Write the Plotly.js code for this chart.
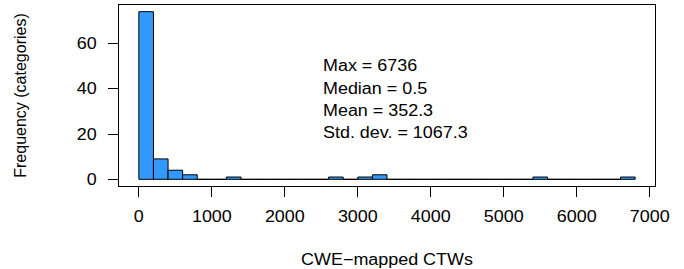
<!DOCTYPE html>
<html>
<head>
<meta charset="utf-8">
<script src="https://cdn.plot.ly/plotly-3.0.1.min.js"></script>
<style>html,body{margin:0;padding:0;background:#fff;}#chart{width:684px;height:269px;}</style>
</head>
<body>
<div id="chart"></div>
<script>
// Histogram bins (start of each 200-wide bin) and counts
const binWidth = 200;
const binStarts = [0,200,400,600,800,1000,1200,1400,1600,1800,2000,2200,2400,2600,2800,3000,3200,3400,3600,3800,4000,4200,4400,4600,4800,5000,5200,5400,5600,5800,6000,6200,6400,6600];
const counts    = [74,9,4,2,0,0,1,0,0,0,0,0,0,1,0,1,2,0,0,0,0,0,0,0,0,0,0,1,0,0,0,0,0,1];
const xTicks = [0,1000,2000,3000,4000,5000,6000,7000];
const yTicks = [0,20,40,60];
const statLines = ["Max = 6736","Median = 0.5","Mean = 352.3","Std. dev. = 1067.3"];

const mids = binStarts.map(s => s + binWidth/2);
const xMin = binStarts[0], xMax = binStarts[binStarts.length-1] + binWidth;
const yMax = Math.max(...counts);
const xPad = (xMax - xMin) * 0.04, yPad = yMax * 0.04;

const font = {family: 'Liberation Sans, Arial, sans-serif', size: 16, color: '#000'};

const trace = {
  type: 'bar', x: mids, y: counts, width: binWidth,
  marker: {color: '#3399FF', line: {color: '#000', width: 1}},
  hoverinfo: 'x+y'
};

// text line centres in pixels -> paper coords of plot area (top 5, bottom 186)
const lineY = [65.5, 88, 110, 132];
const annotations = statLines.map((t, i) => ({
  text: t, xref: 'paper', yref: 'paper', x: 0.3774, y: (186 - lineY[i]) / 181,
  xanchor: 'left', yanchor: 'middle', align: 'left', showarrow: false, font: font
}));

const layout = {
  width: 684, height: 269,
  margin: {l: 119, r: 29, t: 5, b: 83},
  paper_bgcolor: '#fff', plot_bgcolor: '#fff',
  font: font, showlegend: false, bargap: 0,
  xaxis: {
    range: [xMin - xPad, xMax + xPad], tickvals: xTicks, ticktext: xTicks.map(String),
    ticks: 'outside', ticklen: 10, tickcolor: '#000', tickwidth: 1,
    showline: true, linecolor: '#000', linewidth: 1, mirror: true,
    showgrid: false, zeroline: false, ticklabelstandoff: 6,
    title: {text: 'CWE\u2212mapped CTWs', font: font, standoff: 29}
  },
  yaxis: {
    range: [-yPad, yMax + yPad], tickvals: yTicks, ticktext: yTicks.map(String),
    ticks: 'outside', ticklen: 10, tickcolor: '#000', tickwidth: 1,
    showline: true, linecolor: '#000', linewidth: 1, mirror: true,
    showgrid: false, zeroline: false, ticklabelstandoff: 8,
    title: {text: 'Frequency (categories)', font: font, standoff: 48}
  },
  annotations: annotations
};

Plotly.newPlot('chart', [trace], layout, {displayModeBar: false, staticPlot: true}).then(gd => {
  // reference text is horizontally wider than plain Helvetica; stretch glyphs a little
  const S = 1.12;
  gd.querySelectorAll('.xtick text, .ytick text, .annotation-text, text.xtitle').forEach(t => {
    const L = t.getComputedTextLength();
    t.setAttribute('textLength', (L * S).toFixed(2));
    t.setAttribute('lengthAdjust', 'spacingAndGlyphs');
  });
});
</script>
</body>
</html>
